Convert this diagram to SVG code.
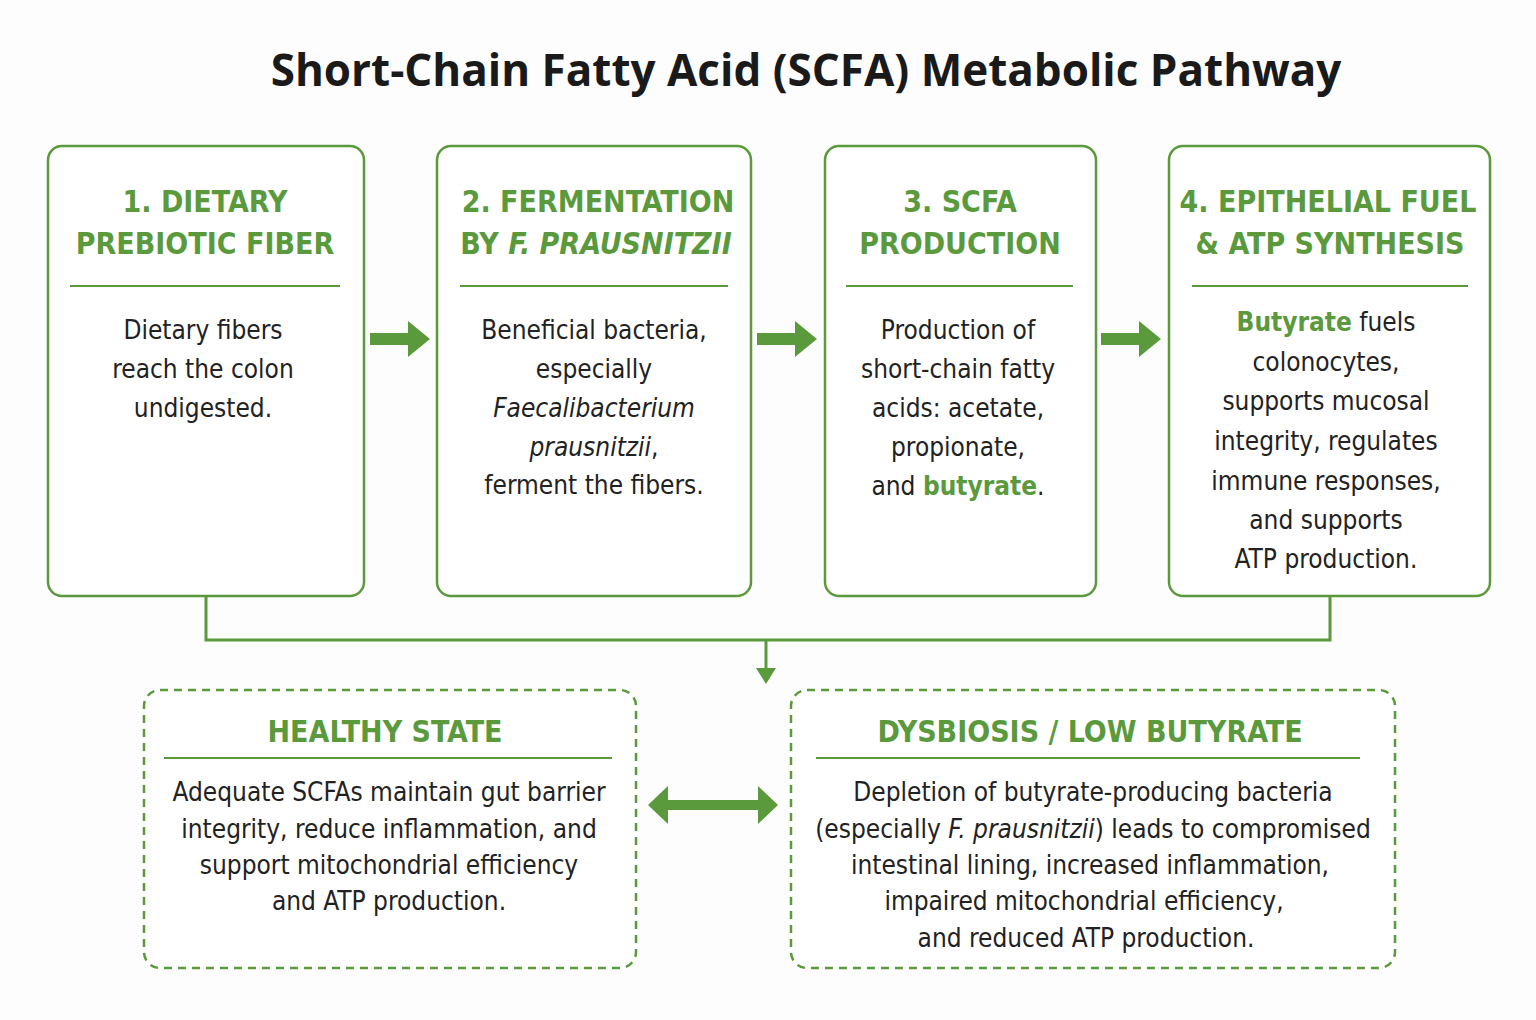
<svg xmlns="http://www.w3.org/2000/svg" width="1536" height="1020" viewBox="0 0 1536 1020">
<style>
.box{fill:#fff;stroke:#5b9a3c;stroke-width:2.5}
.dash{fill:#fff;stroke:#5b9a3c;stroke-width:2.5;stroke-dasharray:8 6}
.sep{stroke:#5b9a3c;stroke-width:2}
.h{font-family:"DejaVu Sans Condensed","DejaVu Sans",sans-serif;font-stretch:condensed;font-weight:bold;font-size:30px;fill:#5b9a3c;text-anchor:middle}
.t{font-family:"DejaVu Sans Condensed","DejaVu Sans",sans-serif;font-stretch:condensed;font-size:26px;fill:#222;text-anchor:middle}
.g{fill:#5b9a3c;font-weight:bold}
.c{fill:none;stroke:#5b9a3c;stroke-width:3}
.ar{fill:#5b9a3c}
</style>
<rect width="1536" height="1020" fill="#fdfdfd"/>
<text x="806" y="86" font-family="Open Sans, sans-serif" font-weight="bold" font-size="44" fill="#1a1a1a" text-anchor="middle">Short-Chain Fatty Acid (SCFA) Metabolic Pathway</text>
<g id="connectors">
<path class="c" d="M206 596V640H1330V596"/>
<path class="c" d="M766 640V670"/><path class="ar" d="M756 668L766 684L776 668Z"/>
<path class="ar" d="M370 333h38v-12l22 18l-22 18v-12h-38z"/>
<path class="ar" d="M757 333h38v-12l22 18l-22 18v-12h-38z"/>
<path class="ar" d="M1101 333h38v-12l22 18l-22 18v-12h-38z"/>
<path class="ar" d="M668 800h90v-14l20 19l-20 19v-14h-90v14l-20-19l20-19z"/>
</g>
<g id="n1"><rect class="box" x="48" y="146" width="316" height="450" rx="14"/>
<text class="h" x="205" y="212">1. DIETARY</text><text class="h" x="205" y="254">PREBIOTIC FIBER</text>
<line class="sep" x1="70" y1="286" x2="340" y2="286"/>
<text class="t" x="203" y="339">Dietary fibers</text><text class="t" x="203" y="378">reach the colon</text><text class="t" x="203" y="417">undigested.</text></g>
<g id="n2"><rect class="box" x="437" y="146" width="314" height="450" rx="14"/>
<text class="h" x="598" y="212">2. FERMENTATION</text><text class="h" x="596" y="254">BY <tspan font-style="italic">F. PRAUSNITZII</tspan></text>
<line class="sep" x1="460" y1="286" x2="728" y2="286"/>
<text class="t" x="594" y="339">Beneficial bacteria,</text><text class="t" x="594" y="378">especially</text><text class="t" x="594" y="417" font-style="italic">Faecalibacterium</text><text class="t" x="594" y="456"><tspan font-style="italic">prausnitzii</tspan>,</text><text class="t" x="594" y="494">ferment the fibers.</text></g>
<g id="n3"><rect class="box" x="825" y="146" width="271" height="450" rx="14"/>
<text class="h" x="960" y="212">3. SCFA</text><text class="h" x="960" y="254">PRODUCTION</text>
<line class="sep" x1="846" y1="286" x2="1073" y2="286"/>
<text class="t" x="958" y="339">Production of</text><text class="t" x="958" y="378">short-chain fatty</text><text class="t" x="958" y="417">acids: acetate,</text><text class="t" x="958" y="456">propionate,</text><text class="t" x="958" y="495">and <tspan class="g">butyrate</tspan>.</text></g>
<g id="n4"><rect class="box" x="1169" y="146" width="321" height="450" rx="14"/>
<text class="h" x="1328" y="212">4. EPITHELIAL FUEL</text><text class="h" x="1330" y="254">&amp; ATP SYNTHESIS</text>
<line class="sep" x1="1192" y1="286" x2="1468" y2="286"/>
<text class="t" x="1326" y="331"><tspan class="g">Butyrate</tspan> fuels</text><text class="t" x="1326" y="371">colonocytes,</text><text class="t" x="1326" y="410">supports mucosal</text><text class="t" x="1326" y="450">integrity, regulates</text><text class="t" x="1326" y="490">immune responses,</text><text class="t" x="1326" y="529">and supports</text><text class="t" x="1326" y="568">ATP production.</text></g>
<g id="n5"><rect class="dash" x="144" y="690" width="492" height="278" rx="16"/>
<text class="h" x="385" y="742">HEALTHY STATE</text>
<line class="sep" x1="164" y1="758" x2="612" y2="758"/>
<text class="t" x="389" y="801">Adequate SCFAs maintain gut barrier</text><text class="t" x="389" y="838">integrity, reduce inflammation, and</text><text class="t" x="389" y="874">support mitochondrial efficiency</text><text class="t" x="389" y="910">and ATP production.</text></g>
<g id="n6"><rect class="dash" x="791" y="690" width="604" height="278" rx="16"/>
<text class="h" x="1090" y="742">DYSBIOSIS / LOW BUTYRATE</text>
<line class="sep" x1="816" y1="758" x2="1360" y2="758"/>
<text class="t" x="1093" y="801">Depletion of butyrate-producing bacteria</text><text class="t" x="1093" y="838">(especially <tspan font-style="italic">F. prausnitzii</tspan>) leads to compromised</text><text class="t" x="1090" y="874">intestinal lining, increased inflammation,</text><text class="t" x="1084" y="910">impaired mitochondrial efficiency,</text><text class="t" x="1086" y="947">and reduced ATP production.</text></g>
</svg>
